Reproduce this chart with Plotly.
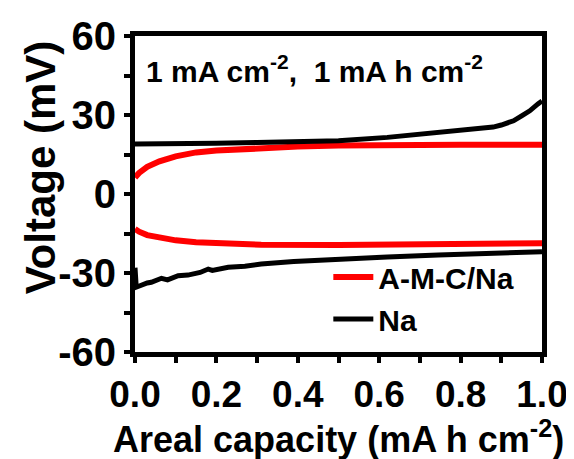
import plotly.graph_objects as go

# Red: A-M-C/Na (charge branch, then discharge branch)
cap_amc_up = [0, 0.01, 0.03, 0.06, 0.1, 0.15, 0.2, 0.25, 0.31, 0.4, 0.5, 0.6, 0.8, 1.0]
v_amc_up = [6.3, 8.0, 10.3, 12.4, 14.3, 15.8, 16.5, 17.0, 17.4, 18.0, 18.4, 18.6, 18.7, 18.7]
cap_amc_dn = [0, 0.01, 0.03, 0.06, 0.1, 0.15, 0.23, 0.31, 0.5, 0.6, 0.75, 0.9, 1.0]
v_amc_dn = [-13.3, -14.3, -15.6, -16.7, -17.6, -18.3, -19.0, -19.3, -19.4, -19.2, -19.1, -18.9, -18.7]

# Black: bare Na
cap_na_up = [0, 0.05, 0.1, 0.2, 0.3, 0.4, 0.5, 0.62, 0.745, 0.8, 0.867, 0.88, 0.9, 0.93, 0.95, 0.97, 0.99, 1.0]
v_na_up = [19.0, 19.0, 19.1, 19.3, 19.6, 19.9, 20.2, 21.5, 23.2, 23.9, 24.9, 25.4, 26.2, 27.8, 29.7, 31.6, 34.2, 35.3]
cap_na_dn = [0, 0.003, 0.03, 0.04, 0.065, 0.08, 0.106, 0.13, 0.16, 0.18, 0.19, 0.229, 0.27, 0.31, 0.39, 0.5, 0.62, 0.745, 0.87, 1.0]
v_na_dn = [-28.0, -35.4, -33.8, -33.5, -32.0, -32.6, -31.0, -30.8, -29.8, -28.5, -29.0, -27.8, -27.4, -26.6, -25.6, -24.7, -23.9, -23.2, -22.5, -21.9]

x_ticks = [0.0, 0.2, 0.4, 0.6, 0.8, 1.0]
y_ticks = [-60, -30, 0, 30, 60]

FONT = "Liberation Sans, Arial, sans-serif"

fig = go.Figure()
fig.add_trace(go.Scatter(
    x=cap_amc_up + [None] + cap_amc_dn, y=v_amc_up + [None] + v_amc_dn,
    mode="lines", name="A-M-C/Na", line=dict(color="#ff0000", width=6)))
fig.add_trace(go.Scatter(
    x=cap_na_up + [None] + cap_na_dn, y=v_na_up + [None] + v_na_dn,
    mode="lines", name="Na", line=dict(color="#000000", width=5)))

fig.update_layout(
    width=574, height=459,
    margin=dict(l=127, r=40, t=28, b=115, autoexpand=False),
    paper_bgcolor="white", plot_bgcolor="white",
    font=dict(family=FONT, color="black", weight="bold"),
    showlegend=True,
    legend=dict(x=0.475, y=0.32, xanchor="left", yanchor="top",
                bgcolor="rgba(0,0,0,0)", font=dict(size=30, family=FONT, weight="bold"),
                tracegroupgap=0, itemwidth=40),
    xaxis=dict(range=[0, 1], tickvals=x_ticks, ticktext=[f"{t:.1f}" for t in x_ticks],
               automargin=False,
               ticks="outside", ticklen=6, tickwidth=4, tickcolor="black",
               minor=dict(dtick=0.1, ticks="outside", ticklen=6, tickwidth=4, tickcolor="black"),
               showline=True, linewidth=5, linecolor="black", mirror=True,
               showgrid=False, zeroline=False,
               tickfont=dict(size=37, family=FONT, weight="bold")),
    yaxis=dict(range=[-60, 60], tickvals=y_ticks, ticktext=[str(t) for t in y_ticks],
               automargin=False,
               ticks="outside", ticklen=6, tickwidth=4, tickcolor="black",
               minor=dict(dtick=15, ticks="outside", ticklen=6, tickwidth=4, tickcolor="black"),
               showline=True, linewidth=5, linecolor="black", mirror=True,
               showgrid=False, zeroline=False,
               tickfont=dict(size=40, family=FONT, weight="bold")),
    annotations=[
        dict(text="1 mA cm<sup>-2</sup>,  1 mA h cm<sup>-2</sup>",
             xref="paper", yref="paper", x=0.023, y=0.896, xanchor="left", yanchor="middle",
             showarrow=False, font=dict(size=30, family=FONT, weight="bold")),
        dict(text="Areal capacity (mA h cm<sup>-2</sup>)",
             xref="paper", yref="paper", x=0.5, y=-0.27, xanchor="center", yanchor="middle",
             showarrow=False, font=dict(size=36, family=FONT, weight="bold")),
        dict(text="Voltage (mV)", textangle=-90,
             xref="paper", yref="paper", x=-0.233, y=0.585, xanchor="center", yanchor="middle",
             showarrow=False, font=dict(size=42, family=FONT, weight="bold")),
    ],
)

fig.write_html("out.html")
